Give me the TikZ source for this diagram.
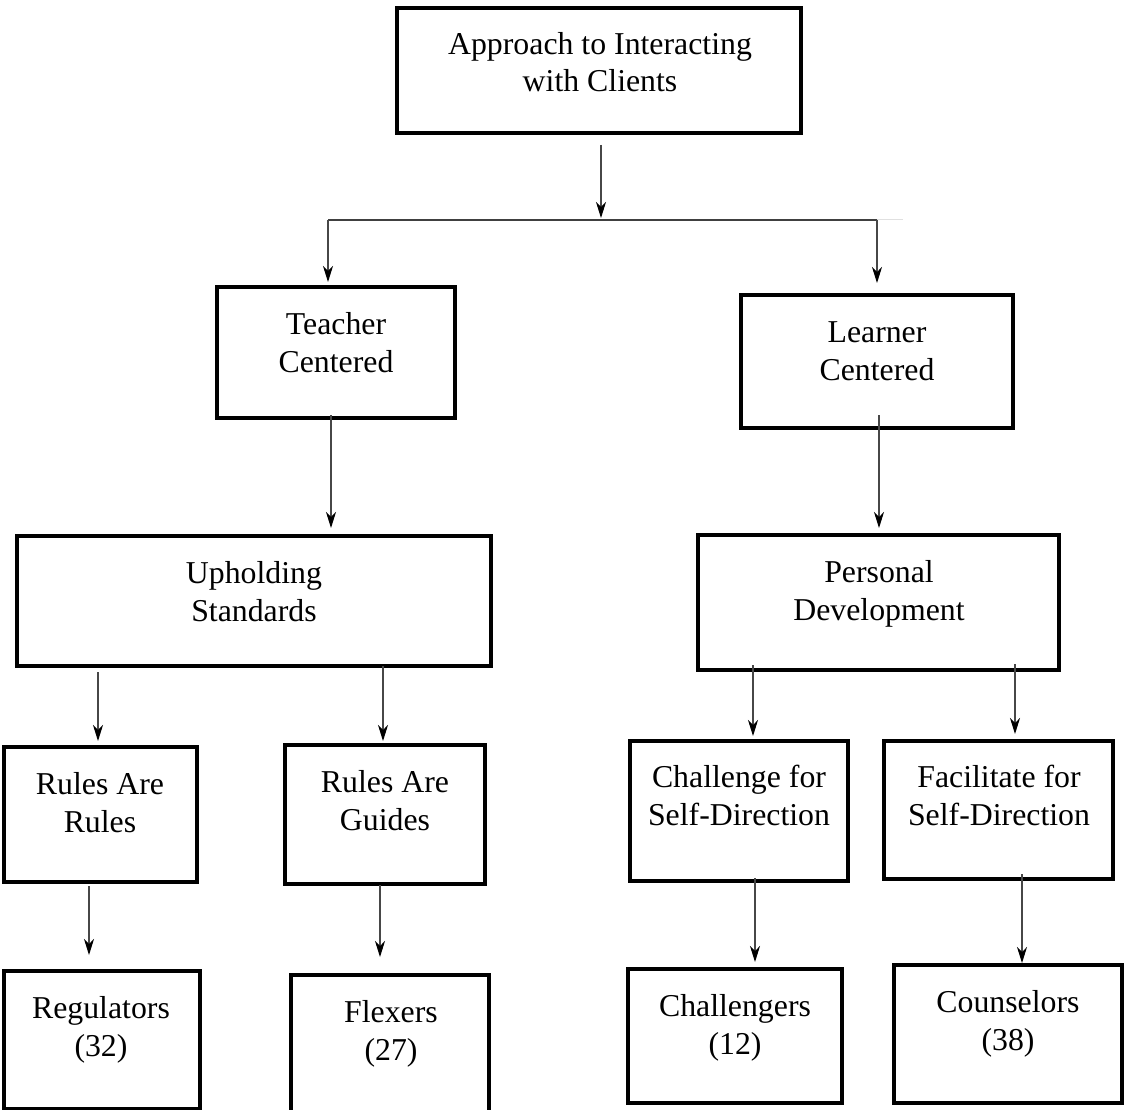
\documentclass[tikz,border=0pt]{standalone}
\usepackage{fontspec}
\setmainfont{Liberation Serif}
\usetikzlibrary{arrows.meta,calc}
\newcommand\lbfont{\fontsize{31.8}{37.5}\selectfont}
\begin{document}
\begin{tikzpicture}[x=1pt,y=-1pt,
  box/.style={draw, line width=3.6pt, rectangle, inner sep=0pt, outer sep=0pt},
  lbl/.style={font=\lbfont, align=center, inner sep=0pt, outer sep=0pt, anchor=base},
  conn/.style={line width=1.1pt, draw=black!72, -{Stealth[length=16pt,width=10pt,inset=5pt,color=black]}},
  bus/.style={line width=1.1pt, draw=black!75}]
\useasboundingbox (0,0) rectangle (1124,1110);
\clip (0,0) rectangle (1124,1110);

% boxes
\node[box, minimum width=404pt, minimum height=125pt] (top) at (599,70.5) {};
\node[box, minimum width=238pt, minimum height=131pt] (teacher) at (336,352.5) {};
\node[box, minimum width=272pt, minimum height=133pt] (learner) at (877,361.5) {};
\node[box, minimum width=474pt, minimum height=130pt] (uphold) at (254,601) {};
\node[box, minimum width=361pt, minimum height=135pt] (personal) at (878.5,602.5) {};
\node[box, minimum width=193pt, minimum height=135pt] (rules1) at (100.5,814.5) {};
\node[box, minimum width=200pt, minimum height=139pt] (rules2) at (385,814.5) {};
\node[box, minimum width=218pt, minimum height=140pt] (challenge) at (739,811) {};
\node[box, minimum width=229pt, minimum height=138pt] (facil) at (998.5,810) {};
\node[box, minimum width=196pt, minimum height=138pt] (regul) at (102,1040) {};
\node[box, minimum width=198pt, minimum height=165pt] (flexers) at (390,1057.5) {};
\node[box, minimum width=214pt, minimum height=134pt] (challengers) at (735,1036) {};
\node[box, minimum width=228pt, minimum height=138pt] (counsel) at (1008,1034) {};

% labels (anchored on the baseline of their last line)
\node[lbl] (topT) at (600,92) {Approach to Interacting\\with Clients};
\node[lbl] (teacherT) at (336,372) {Teacher\\Centered};
\node[lbl] (learnerT) at (877,380) {Learner\\Centered};
\node[lbl] (upholdT) at (254,621) {Upholding\\Standards};
\node[lbl] (personalT) at (879,620) {Personal\\Development};
\node[lbl] (rules1T) at (100,832) {Rules Are\\Rules};
\node[lbl] (rules2T) at (385,830) {Rules Are\\Guides};
\node[lbl] (challengeT) at (739,825) {Challenge for\\Self-Direction};
\node[lbl] (facilT) at (999,825) {Facilitate for\\Self-Direction};
\node[lbl] (regulT) at (101,1056) {Regulators\\(32)};
\node[lbl] (flexersT) at (391,1060) {Flexers\\(27)};
\node[lbl] (challengersT) at (735,1054) {Challengers\\(12)};
\node[lbl] (counselT) at (1008,1050) {Counselors\\(38)};

% branching line
\coordinate (busM) at (601,220);
\coordinate (busL) at (328,220);
\coordinate (busR) at (877,220);
\coordinate (busEnd) at (903,220);
\draw[bus] (busL) -- (busR);
\draw[line width=1pt, draw=black!12] (busR) -- (busEnd);

% connectors
\draw[conn, shorten >=2pt] ($(top.south)+(2,12)$) -- (busM);
\draw[conn] (busL) -- ($(teacher.north)+(-8,-5)$);
\draw[conn] (busR) -- ($(learner.north)+(0,-12)$);
\draw[conn] ($(teacher.south)+(-5,-3)$) -- ($(uphold.north)+(77,-8)$);
\draw[conn] ($(learner.south)+(2,-13)$) -- ($(personal.north)+(0.5,-7)$);
\draw[conn] ($(uphold.south)+(-156,6)$) -- ($(rules1.north)+(-2.5,-6)$);
\draw[conn] ($(uphold.south)+(129,0)$) -- ($(rules2.north)+(-2,-4)$);
\draw[conn] ($(personal.south)+(-125.5,-5)$) -- ($(challenge.north)+(14,-5)$);
\draw[conn] ($(personal.south)+(136.5,-6)$) -- ($(facil.north)+(16.5,-7)$);
\draw[conn] ($(rules1.south)+(-11.5,4)$) -- ($(regul.north)+(-13,-16)$);
\draw[conn] ($(rules2.south)+(-5,1)$) -- ($(flexers.north)+(-10,-18)$);
\draw[conn] ($(challenge.south)+(16,-3)$) -- ($(challengers.north)+(20,-7)$);
\draw[conn] ($(facil.south)+(23.5,-5)$) -- ($(counsel.north)+(14,-2)$);
\end{tikzpicture}
\end{document}
